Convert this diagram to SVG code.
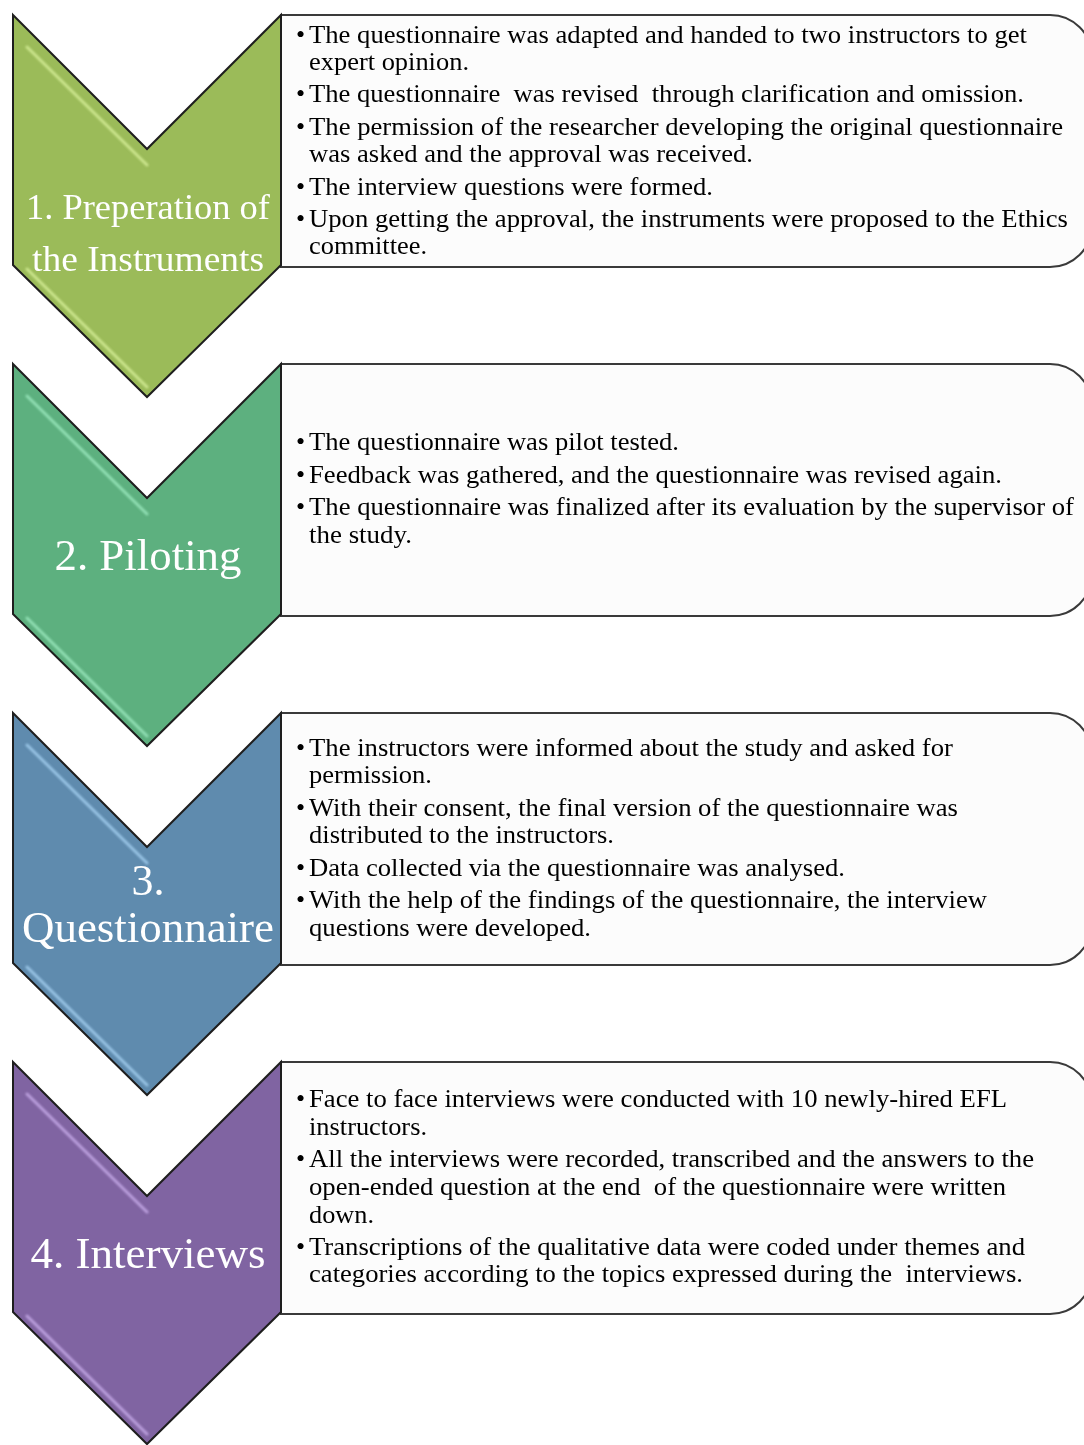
<svg xmlns="http://www.w3.org/2000/svg" width="1084" height="1445" viewBox="0 0 1084 1445">
  <style>
    .box { fill: #FCFCFC; stroke: #3A3A3A; stroke-width: 2; }
    .chev { stroke: #1E1E1E; stroke-width: 2; stroke-linejoin: miter; }
    .hl { fill: none; stroke-width: 3; stroke-linecap: round; opacity: 0.8; }
    .body { font-size: 26px; fill: #000; }
    .label { fill: #FFFFFF; text-anchor: middle; }
  </style>
  <defs>
    <path id="chevShape" d="M13,0 L147,134 L281,0 L281,250 L147,382 L13,250 Z"/>
    <path id="boxShape" d="M281,0 H1050 A42,42 0 0 1 1092,42 V210 A42,42 0 0 1 1050,252 H281 Z"/>
    <filter id="soft" x="-10%" y="-10%" width="120%" height="120%">
      <feGaussianBlur stdDeviation="1"/>
    </filter>
  </defs>

  <rect width="1084" height="1445" fill="#FFFFFF"/>

  <g id="connectors"/>

  <!-- Step 1 -->
  <g id="step1" transform="translate(0,15)">
    <use href="#boxShape" class="box"/>
    <use href="#chevShape" class="chev" fill="#9BBB59"/>
    <g filter="url(#soft)">
      <path class="hl" stroke="#D8F09A" d="M27,32 L147,150"/>
      <path class="hl" stroke="#D8F09A" d="M27,254 L147,372"/>
    </g>
  </g>
  <g id="step1-text" font-family="Liberation Serif, serif">
    <text class="label" font-size="36" x="148" y="219" textLength="244" lengthAdjust="spacingAndGlyphs">1. Preperation of</text>
    <text class="label" font-size="36" x="148" y="271" textLength="232" lengthAdjust="spacingAndGlyphs">the Instruments</text>
    <g class="body">
      <text x="296" y="43">•</text><text x="309" y="43" textLength="718" lengthAdjust="spacingAndGlyphs">The questionnaire was adapted and handed to two instructors to get</text>
      <text x="309" y="70" textLength="160" lengthAdjust="spacingAndGlyphs">expert opinion.</text>
      <text x="296" y="102">•</text><text x="309" y="102" textLength="715" lengthAdjust="spacingAndGlyphs" xml:space="preserve">The questionnaire  was revised  through clarification and omission.</text>
      <text x="296" y="135">•</text><text x="309" y="135" textLength="754" lengthAdjust="spacingAndGlyphs">The permission of the researcher developing the original questionnaire</text>
      <text x="309" y="162" textLength="444" lengthAdjust="spacingAndGlyphs">was asked and the approval was received.</text>
      <text x="296" y="195">•</text><text x="309" y="195" textLength="404" lengthAdjust="spacingAndGlyphs">The interview questions were formed.</text>
      <text x="296" y="227">•</text><text x="309" y="227" textLength="759" lengthAdjust="spacingAndGlyphs">Upon getting the approval, the instruments were proposed to the Ethics</text>
      <text x="309" y="254" textLength="118" lengthAdjust="spacingAndGlyphs">committee.</text>
    </g>
  </g>

  <!-- Step 2 -->
  <g id="step2" transform="translate(0,364)">
    <use href="#boxShape" class="box"/>
    <use href="#chevShape" class="chev" fill="#5DB07F"/>
    <g filter="url(#soft)">
      <path class="hl" stroke="#9EEBC0" d="M27,32 L147,150"/>
      <path class="hl" stroke="#9EEBC0" d="M27,254 L147,372"/>
    </g>
  </g>
  <g id="step2-text" font-family="Liberation Serif, serif">
    <text class="label" font-size="44" x="148" y="570" textLength="187" lengthAdjust="spacingAndGlyphs">2. Piloting</text>
    <g class="body">
      <text x="296" y="450">•</text><text x="309" y="450" textLength="370" lengthAdjust="spacingAndGlyphs">The questionnaire was pilot tested.</text>
      <text x="296" y="483">•</text><text x="309" y="483" textLength="693" lengthAdjust="spacingAndGlyphs">Feedback was gathered, and the questionnaire was revised again.</text>
      <text x="296" y="515">•</text><text x="309" y="515" textLength="765" lengthAdjust="spacingAndGlyphs">The questionnaire was finalized after its evaluation by the supervisor of</text>
      <text x="309" y="543" textLength="103" lengthAdjust="spacingAndGlyphs">the study.</text>
    </g>
  </g>

  <!-- Step 3 -->
  <g id="step3" transform="translate(0,713)">
    <use href="#boxShape" class="box"/>
    <use href="#chevShape" class="chev" fill="#5F8BAE"/>
    <g filter="url(#soft)">
      <path class="hl" stroke="#A6D2F2" d="M27,32 L147,150"/>
      <path class="hl" stroke="#A6D2F2" d="M27,254 L147,372"/>
    </g>
  </g>
  <g id="step3-text" font-family="Liberation Serif, serif">
    <text class="label" font-size="44" x="148" y="895">3.</text>
    <text class="label" font-size="44" x="148" y="942" textLength="252" lengthAdjust="spacingAndGlyphs">Questionnaire</text>
    <g class="body">
      <text x="296" y="756">•</text><text x="309" y="756" textLength="644" lengthAdjust="spacingAndGlyphs">The instructors were informed about the study and asked for</text>
      <text x="309" y="783" textLength="123" lengthAdjust="spacingAndGlyphs">permission.</text>
      <text x="296" y="816">•</text><text x="309" y="816" textLength="649" lengthAdjust="spacingAndGlyphs">With their consent, the final version of the questionnaire was</text>
      <text x="309" y="843" textLength="305" lengthAdjust="spacingAndGlyphs">distributed to the instructors.</text>
      <text x="296" y="876">•</text><text x="309" y="876" textLength="536" lengthAdjust="spacingAndGlyphs">Data collected via the questionnaire was analysed.</text>
      <text x="296" y="908">•</text><text x="309" y="908" textLength="678" lengthAdjust="spacingAndGlyphs">With the help of the findings of the questionnaire, the interview</text>
      <text x="309" y="936" textLength="282" lengthAdjust="spacingAndGlyphs">questions were developed.</text>
    </g>
  </g>

  <!-- Step 4 -->
  <g id="step4" transform="translate(0,1062)">
    <use href="#boxShape" class="box"/>
    <use href="#chevShape" class="chev" fill="#8064A2"/>
    <g filter="url(#soft)">
      <path class="hl" stroke="#C9AEEC" d="M27,32 L147,150"/>
      <path class="hl" stroke="#C9AEEC" d="M27,254 L147,372"/>
    </g>
  </g>
  <g id="step4-text" font-family="Liberation Serif, serif">
    <text class="label" font-size="44" x="148" y="1268" textLength="235" lengthAdjust="spacingAndGlyphs">4. Interviews</text>
    <g class="body">
      <text x="296" y="1107">•</text><text x="309" y="1107" textLength="698" lengthAdjust="spacingAndGlyphs">Face to face interviews were conducted with 10 newly-hired EFL</text>
      <text x="309" y="1135" textLength="118" lengthAdjust="spacingAndGlyphs">instructors.</text>
      <text x="296" y="1167">•</text><text x="309" y="1167" textLength="725" lengthAdjust="spacingAndGlyphs">All the interviews were recorded, transcribed and the answers to the</text>
      <text x="309" y="1195" textLength="697" lengthAdjust="spacingAndGlyphs" xml:space="preserve">open-ended question at the end  of the questionnaire were written</text>
      <text x="309" y="1223" textLength="65" lengthAdjust="spacingAndGlyphs">down.</text>
      <text x="296" y="1255">•</text><text x="309" y="1255" textLength="716" lengthAdjust="spacingAndGlyphs">Transcriptions of the qualitative data were coded under themes and</text>
      <text x="309" y="1282" textLength="714" lengthAdjust="spacingAndGlyphs" xml:space="preserve">categories according to the topics expressed during the  interviews.</text>
    </g>
  </g>
</svg>
